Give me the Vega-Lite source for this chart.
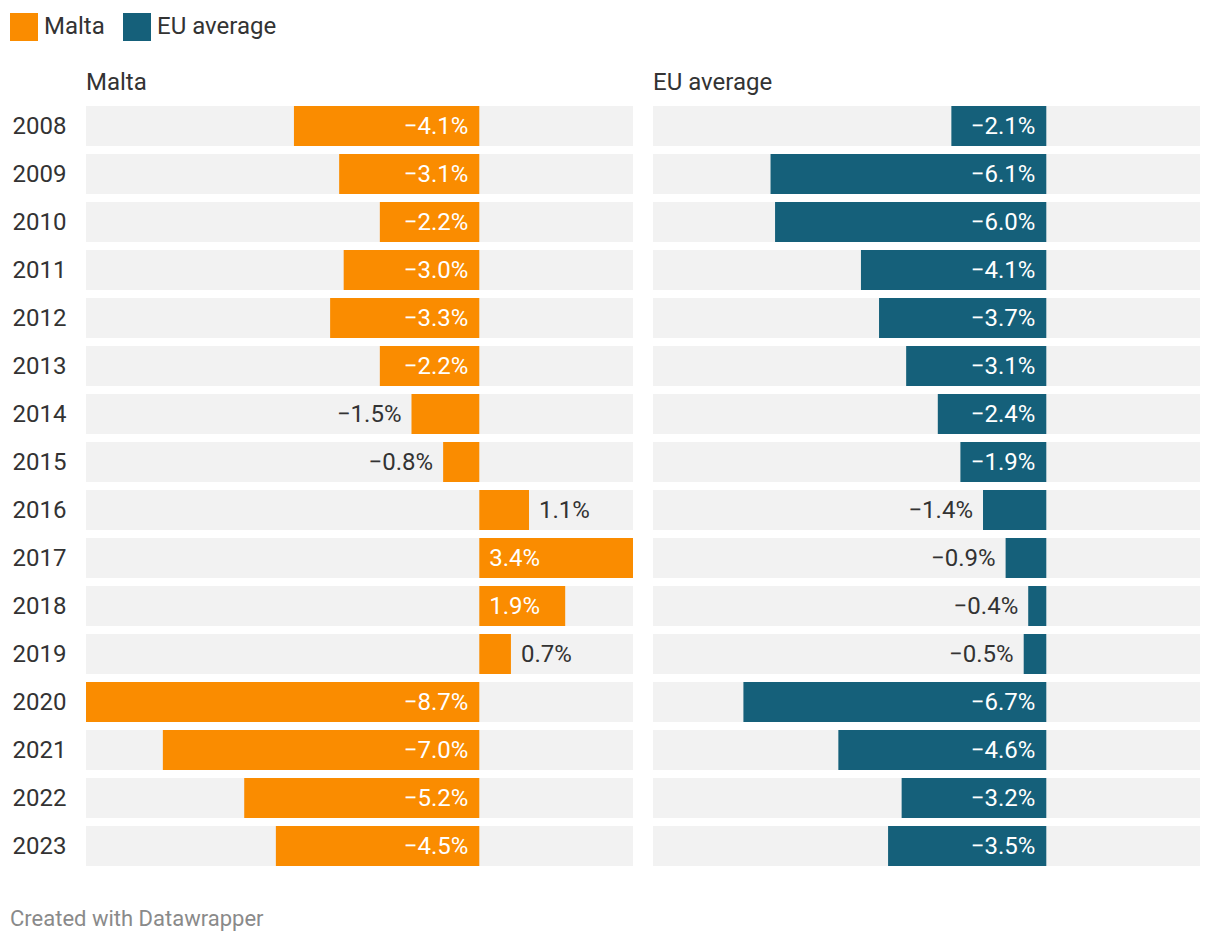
{
  "$schema": "https://vega.github.io/schema/vega-lite/v6.json",
  "padding": {"left": 10, "top": 13, "right": 10, "bottom": 10},
  "background": "white",
  "config": {"font": "Roboto", "view": {"stroke": null}},
  "title": {"text": "Created with Datawrapper", "orient": "bottom", "anchor": "start", "fontSize": 22, "fontWeight": "normal", "color": "#8a8a8a", "font": "Roboto", "offset": 39},
  "data": {"values": [
    {"series": "Malta", "year": "2008", "value": -4.1},
    {"series": "Malta", "year": "2009", "value": -3.1},
    {"series": "Malta", "year": "2010", "value": -2.2},
    {"series": "Malta", "year": "2011", "value": -3.0},
    {"series": "Malta", "year": "2012", "value": -3.3},
    {"series": "Malta", "year": "2013", "value": -2.2},
    {"series": "Malta", "year": "2014", "value": -1.5},
    {"series": "Malta", "year": "2015", "value": -0.8},
    {"series": "Malta", "year": "2016", "value": 1.1},
    {"series": "Malta", "year": "2017", "value": 3.4},
    {"series": "Malta", "year": "2018", "value": 1.9},
    {"series": "Malta", "year": "2019", "value": 0.7},
    {"series": "Malta", "year": "2020", "value": -8.7},
    {"series": "Malta", "year": "2021", "value": -7.0},
    {"series": "Malta", "year": "2022", "value": -5.2},
    {"series": "Malta", "year": "2023", "value": -4.5},
    {"series": "EU average", "year": "2008", "value": -2.1},
    {"series": "EU average", "year": "2009", "value": -6.1},
    {"series": "EU average", "year": "2010", "value": -6.0},
    {"series": "EU average", "year": "2011", "value": -4.1},
    {"series": "EU average", "year": "2012", "value": -3.7},
    {"series": "EU average", "year": "2013", "value": -3.1},
    {"series": "EU average", "year": "2014", "value": -2.4},
    {"series": "EU average", "year": "2015", "value": -1.9},
    {"series": "EU average", "year": "2016", "value": -1.4},
    {"series": "EU average", "year": "2017", "value": -0.9},
    {"series": "EU average", "year": "2018", "value": -0.4},
    {"series": "EU average", "year": "2019", "value": -0.5},
    {"series": "EU average", "year": "2020", "value": -6.7},
    {"series": "EU average", "year": "2021", "value": -4.6},
    {"series": "EU average", "year": "2022", "value": -3.2},
    {"series": "EU average", "year": "2023", "value": -3.5}
  ]},
  "transform": [{"calculate": "format(datum.value / 100, '.1%')", "as": "label"}],
  "facet": {"column": {"field": "series", "type": "nominal", "sort": ["Malta", "EU average"],
    "header": {"title": null, "labelFontSize": 24, "labelFont": "Roboto", "labelColor": "#333333", "labelAnchor": "start", "labelAlign": "left", "labelPadding": 7}}},
  "spacing": 20,
  "spec": {
    "width": 547,
    "height": 768,
    "encoding": {
      "y": {"field": "year", "type": "ordinal", "scale": {"paddingInner": 0.1667, "paddingOuter": 0.0833},
        "axis": {"title": null, "domain": false, "ticks": false, "labelFontSize": 24, "labelFont": "Roboto", "labelColor": "#333333", "labelPadding": 20, "labelOffset": 1}}
    },
    "layer": [
      {"mark": {"type": "bar", "color": "#f2f2f2"},
        "encoding": {"x": {"datum": -8.7, "type": "quantitative", "scale": {"domain": [-8.7, 3.4], "nice": false, "zero": false}, "axis": null}, "x2": {"datum": 3.4}}},
      {"mark": {"type": "bar"},
        "encoding": {"x": {"field": "value", "type": "quantitative", "scale": {"domain": [-8.7, 3.4], "nice": false}, "axis": null},
          "color": {"field": "series", "type": "nominal", "scale": {"domain": ["Malta", "EU average"], "range": ["#fa8c00", "#15607a"]},
            "legend": {"orient": "none", "legendX": -76, "legendY": -89, "direction": "horizontal", "title": null, "symbolType": "square", "symbolSize": 784, "symbolStrokeWidth": 0, "symbolOpacity": 1, "labelFontSize": 24, "labelFont": "Roboto", "labelColor": "#333333", "labelOffset": 6, "columnPadding": 18, "padding": 0}}}},
      {"transform": [{"filter": "datum.value <= -1.7"}],
        "mark": {"type": "text", "align": "right", "baseline": "middle", "dx": -11, "dy": 1, "fontSize": 24, "color": "white"},
        "encoding": {"x": {"datum": 0, "type": "quantitative"}, "text": {"field": "label"}}},
      {"transform": [{"filter": "datum.value >= 1.7"}],
        "mark": {"type": "text", "align": "left", "baseline": "middle", "dx": 10, "dy": 1, "fontSize": 24, "color": "white"},
        "encoding": {"x": {"datum": 0, "type": "quantitative"}, "text": {"field": "label"}}},
      {"transform": [{"filter": "datum.value < 0 && datum.value > -1.7"}],
        "mark": {"type": "text", "align": "right", "baseline": "middle", "dx": -10, "dy": 1, "fontSize": 24, "color": "#333333"},
        "encoding": {"x": {"field": "value", "type": "quantitative"}, "text": {"field": "label"}}},
      {"transform": [{"filter": "datum.value > 0 && datum.value < 1.7"}],
        "mark": {"type": "text", "align": "left", "baseline": "middle", "dx": 10, "dy": 1, "fontSize": 24, "color": "#333333"},
        "encoding": {"x": {"field": "value", "type": "quantitative"}, "text": {"field": "label"}}}
    ]
  }
}
